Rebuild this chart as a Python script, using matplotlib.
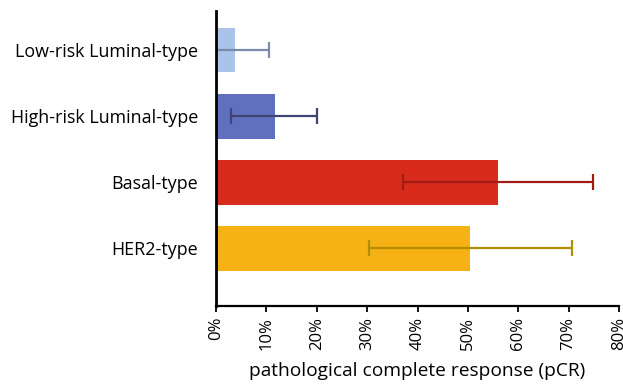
import matplotlib.pyplot as plt
from matplotlib.ticker import PercentFormatter

# subtypes, top to bottom
categories = ['Low-risk Luminal-type', 'High-risk Luminal-type', 'Basal-type', 'HER2-type']
pcr = [3.8, 11.7, 56.0, 50.4]
ci_low = [0.0, 2.9, 37.2, 30.3]
ci_high = [10.5, 20.1, 74.9, 70.6]
xticks = [0, 10, 20, 30, 40, 50, 60, 70, 80]

bar_colors = ['#abc3e8', '#6070bf', '#d92b1c', '#f6b214']
err_colors = ['#7b8bab', '#3f4475', '#a11d14', '#b38c00']

plt.rcParams['font.family'] = ['Open Sans', 'DejaVu Sans']

fig = plt.figure(figsize=(6.23, 3.89), dpi=100)
ax = fig.add_axes([0.3467, 0.2141, 0.6469, 0.7576])

pos = list(range(len(categories)))
ax.barh(pos, pcr, height=0.68, color=bar_colors, zorder=1)

for i in pos:
    lo = pcr[i] - ci_low[i]
    hi = ci_high[i] - pcr[i]
    ax.errorbar(pcr[i], i, xerr=[[lo], [hi]], fmt='none', ecolor=err_colors[i],
                elinewidth=1.6, capsize=5.5, capthick=1.6, zorder=2, clip_on=True)

ax.set_xlim(0, 80)
ax.set_ylim(3.87, -0.59)
ax.set_xticks(xticks)
ax.xaxis.set_major_formatter(PercentFormatter(decimals=0))
ax.set_yticks(pos)
ax.set_yticklabels(categories, fontsize=12.9)
ax.tick_params(axis='y', length=0, pad=13)
ax.tick_params(axis='x', length=4, width=1.3, labelsize=12, labelrotation=90, pad=4)

for s in ['top', 'right']:
    ax.spines[s].set_visible(False)
ax.spines['left'].set_linewidth(2)
ax.spines['bottom'].set_linewidth(1.6)

ax.set_xlabel('pathological complete response (pCR)', fontsize=13.8, labelpad=9)

fig.savefig('out.png', dpi=100)
